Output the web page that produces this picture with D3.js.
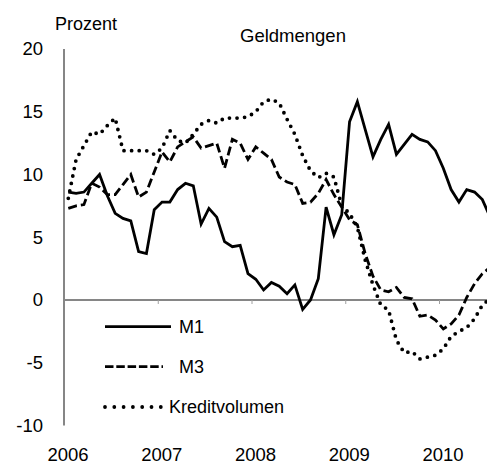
<!DOCTYPE html>
<html>
<head>
<meta charset="utf-8">
<script src="https://cdn.jsdelivr.net/npm/d3@7"></script>
<style>
  body { margin: 0; background: #fff; }
  text { font-family: "Liberation Sans", Arial, sans-serif; fill: #000; }
</style>
</head>
<body>
<div id="chart"></div>
<script>
var width = 487
var height = 464

// monthly values, Jan 2006 .. Jul 2010
var m1 = [8.6, 8.5, 8.6, 9.3, 10.0, 8.3, 6.9, 6.5, 6.3, 3.85, 3.7, 7.2,
          7.8, 7.8, 8.8, 9.3, 9.1, 6.05, 7.3, 6.6, 4.65, 4.25, 4.35, 2.1,
          1.65, 0.8, 1.4, 1.1, 0.5, 1.2, -0.75, 0.0, 1.7, 7.4, 5.2, 6.8,
          14.2, 15.8, 13.6, 11.4, 12.8, 14.0, 11.6, 12.4, 13.2, 12.8, 12.6, 11.9,
          10.5, 8.8, 7.8, 8.8, 8.6, 8.0, 6.6]
var m3 = [7.3, 7.5, 7.6, 9.3, 9.0, 8.4, 8.4, 9.2, 10.0, 8.2, 8.6, 10.2,
          11.8, 11.0, 12.2, 12.6, 13.0, 12.1, 12.3, 12.5, 10.5, 12.8, 12.5, 11.2,
          12.2, 11.7, 11.2, 9.8, 9.4, 9.2, 7.7, 7.8, 8.5, 9.6, 8.4, 7.4,
          6.4, 6.0, 3.7, 1.9, 0.8, 0.65, 1.0, 0.2, 0.1, -1.3, -1.2, -1.6,
          -2.3, -1.9, -1.2, 0.2, 1.3, 2.1, 2.6]
var kredit = [8.1, 11.2, 12.3, 13.4, 13.2, 13.9, 14.5, 11.9, 11.9, 11.9, 11.9, 11.6,
              12.1, 13.5, 12.7, 12.5, 13.2, 14.0, 14.3, 14.1, 14.5, 14.5, 14.5, 14.6,
              15.0, 15.8, 16.0, 15.7, 14.4, 13.2, 11.5, 10.3, 9.75, 10.1, 9.8, 7.5,
              6.9, 5.8, 3.2, 1.2, -0.4, -0.8, -3.2, -4.2, -4.1, -4.7, -4.55, -4.4,
              -3.9, -2.9, -2.5, -2.2, -1.5, -0.4, 0.1]

var years = ['2006', '2007', '2008', '2009', '2010']
var yTicks = [-10, -5, 0, 5, 10, 15, 20]

var series = [
  {name: 'M1', values: m1, dash: null},
  {name: 'M3', values: m3, dash: '9,4'},
  {name: 'Kreditvolumen', values: kredit, dash: '0,7.6'}
]

var x = d3.scaleLinear().domain([0, 60]).range([64, 64 + 60 * 7.8125])
var y = d3.scaleLinear().domain([-10, 20]).range([425.5, 49])

var svg = d3.select('#chart').append('svg')
            .attr('width', width)
            .attr('height', height)

// y axis line + labels
svg.append('line')
   .attr('x1', 64).attr('x2', 64)
   .attr('y1', y(20)).attr('y2', y(-10))
   .style('stroke', '#868686').style('stroke-width', 2)

var yAxis = svg.append('g')
   .attr('transform', 'translate(64,0)')
   .call(d3.axisLeft(y).tickValues(yTicks).tickSize(0).tickPadding(21).tickFormat((d) => String(d)))
yAxis.select('.domain').remove()
yAxis.selectAll('text').style('font-size', '18.5px')

// zero line with year ticks
var xAxis = svg.append('g')
   .attr('transform', 'translate(0,' + y(0) + ')')
   .call(d3.axisBottom(x).tickValues([12, 24, 36, 48]).tickSize(4).tickFormat(''))
xAxis.select('.domain')
   .attr('d', 'M64,0H' + width)
   .style('stroke', '#868686').style('stroke-width', 2)
xAxis.selectAll('.tick line').style('stroke', '#a0a0a0')

// year labels at bottom
var xLab = svg.append('g')
   .attr('transform', 'translate(3.5,448)')
   .call(d3.axisBottom(x).tickValues([0, 12, 24, 36, 48]).tickSize(0).tickPadding(0)
           .tickFormat((d, i) => years[i]))
xLab.select('.domain').remove()
xLab.selectAll('text').style('font-size', '18.5px')

var line = d3.line()
   .x((d, i) => x(i + 0.55))
   .y((d) => y(d))

svg.append('g').selectAll('.series')
   .data(series)
   .enter()
     .append('path')
     .attr('class', 'series')
     .attr('d', (d) => line(d.values))
     .style('fill', 'none')
     .style('stroke', '#000')
     .style('stroke-width', (d) => d.dash && d.dash[0] == '0' ? 3.8 : 2.8)
     .style('stroke-linecap', (d) => d.dash && d.dash[0] == '0' ? 'round' : 'butt')
     .style('stroke-linejoin', 'miter')
     .style('stroke-dasharray', (d) => d.dash)

// legend
var legY = [326.7, 366.7, 407]
var leg = svg.append('g').selectAll('.leg')
   .data(series)
   .enter()
     .append('g')
     .attr('class', 'leg')
     .attr('transform', (d, i) => 'translate(0,' + legY[i] + ')')

leg.append('line')
   .attr('x1', 105).attr('x2', (d, i) => i == 0 ? 171 : 163)
   .style('stroke', '#000')
   .style('stroke-width', (d) => d.dash && d.dash[0] == '0' ? 3.8 : 2.8)
   .style('stroke-linecap', (d) => d.dash && d.dash[0] == '0' ? 'round' : 'butt')
   .style('stroke-dasharray', (d) => d.dash && d.dash[0] == '0' ? '0,9.3' : (d.dash ? '8.5,2.8' : null))

leg.append('text')
   .attr('x', (d, i) => i == 2 ? 169 : 179)
   .attr('dy', '0.35em')
   .style('font-size', '18px')
   .text((d) => d.name)

svg.append('text')
   .attr('x', 55).attr('y', 29.5)
   .style('font-size', '18px')
   .text('Prozent')

svg.append('text')
   .attr('x', 240).attr('y', 42)
   .style('font-size', '18.5px')
   .text('Geldmengen')
</script>
</body>
</html>
